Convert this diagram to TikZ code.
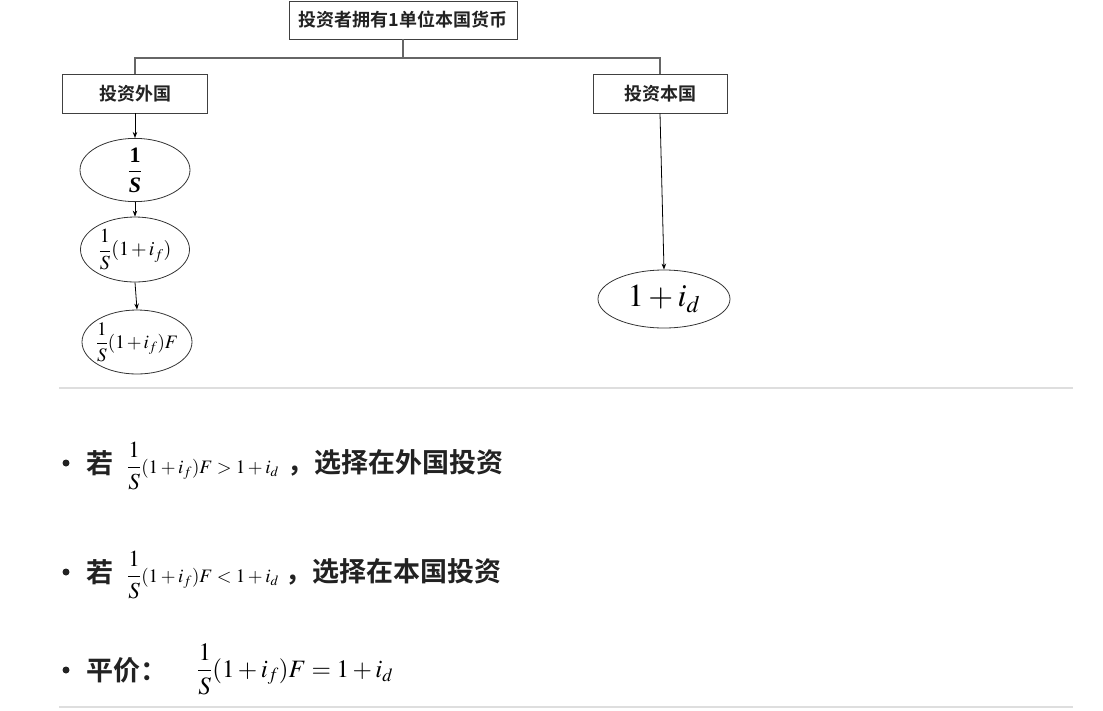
\documentclass[tikz,border=0pt]{standalone}
\usepackage{mathptmx}
\usepackage{fontspec}
\usetikzlibrary{shapes.geometric,arrows.meta}
\newfontfamily\cjk{Noto Sans CJK SC}[BoldFont={Noto Sans CJK SC Bold}]
\newfontfamily\timesf{Liberation Serif}
\definecolor{txt}{HTML}{222222}
\tikzset{
  box/.style={draw=black!75, line width=0.8pt, rectangle, inner sep=0pt, text=txt,
    font=\cjk\bfseries\fontsize{18}{20}\selectfont},
  oval/.style={draw=black!80, line width=0.8pt, ellipse, inner sep=0pt},
  tree/.style={draw=black!60, line width=1.3pt},
  arr/.style={draw=black, line width=0.8pt, -{Stealth[length=6pt,width=4.5pt]}},
  sep/.style={draw=black!13, line width=2pt},
  cjktext/.style={font=\cjk\bfseries\fontsize{27}{30}\selectfont, text=txt, inner sep=0pt, anchor=west},
  bullet/.style={circle, fill=txt, minimum size=7pt, inner sep=0pt},
  fsmall/.style={anchor=west, inner sep=0pt},
  fbig/.style={anchor=west, inner sep=0pt, font=\fontsize{25}{30}\selectfont}
}
\begin{document}
\begin{tikzpicture}[x=1pt,y=-1pt]
\useasboundingbox (0,0) rectangle (1103,710);
% tree boxes
\node[box, minimum width=228pt, minimum height=38pt] (top) at (403,20) {投资者拥有1单位本国货币};
\node[box, minimum width=145pt, minimum height=39pt] (left) at (135,93.5) {投资外国};
\node[box, minimum width=134pt, minimum height=39pt] (right) at (660,93.5) {投资本国};
\coordinate (hy) at (0,58);
\draw[tree] (top.south) -- (top.south |- hy);
\draw[tree] (left.north) |- (right.north |- hy) -- (right.north);
% ellipses
\node[oval, minimum width=110pt, minimum height=60pt] (e1) at (135,170)
  {\fontsize{22}{26}\selectfont$\displaystyle\frac{\mbox{\timesf\bfseries 1}}{\mbox{\timesf\bfseries\itshape S}}$};
\node[oval, minimum width=109pt, minimum height=65pt] (e2) at (135,249.5)
  {\makebox[60pt][c]{\fontsize{20}{24}\selectfont\medmuskip=2mu$\displaystyle\frac{1}{S}(1+i_f)$}};
\node[oval, minimum width=110pt, minimum height=64pt] (e3) at (137,342)
  {\makebox[60pt][c]{\fontsize{19}{23}\selectfont\medmuskip=2mu$\displaystyle\frac{1}{S}(1+i_f)F$}};
\node[oval, minimum width=132pt, minimum height=58pt] (er) at (664,299)
  {\makebox[60pt][c]{\fontsize{32}{36}\selectfont$1+i_d$}};
\draw[arr] (left.south) -- (e1.north);
\draw[arr] (e1.south) -- (e2.north);
\draw[arr] (e2.south) -- (e3.north);
\draw[arr] (right.south) -- (er.north);
% separators
\coordinate (s1a) at (59,388); \coordinate (s1b) at (1073,388);
\coordinate (s2a) at (59,707); \coordinate (s2b) at (1073,707);
\draw[sep] (s1a) -- (s1b);
\draw[sep] (s2a) -- (s2b);
% row 1
\node[bullet] (b1) at (66,463) {};
\node[cjktext] (r1a) at (86,463) {若};
\node[fsmall] (r1f) at (127,466) {{\fontsize{23}{26}\selectfont$\displaystyle\frac{1}{S}$}{\fontsize{19}{22}\selectfont$(1+i_f)F>1+i_d$}};
\node[cjktext] (r1b) at (287,463) {，选择在外国投资};
% row 2
\node[bullet] (b2) at (66,572) {};
\node[cjktext] (r2a) at (86,572) {若};
\node[fsmall] (r2f) at (127,575) {{\fontsize{23}{26}\selectfont$\displaystyle\frac{1}{S}$}{\fontsize{19}{22}\selectfont$(1+i_f)F<1+i_d$}};
\node[cjktext] (r2b) at (285,572) {，选择在本国投资};
% row 3
\node[bullet] (b3) at (66,670) {};
\node[cjktext] (r3a) at (86,670) {平价：};
\node[fbig] (r3f) at (197,669) {$\displaystyle\frac{1}{S}(1+i_f)F=1+i_d$};
\end{tikzpicture}
\end{document}
